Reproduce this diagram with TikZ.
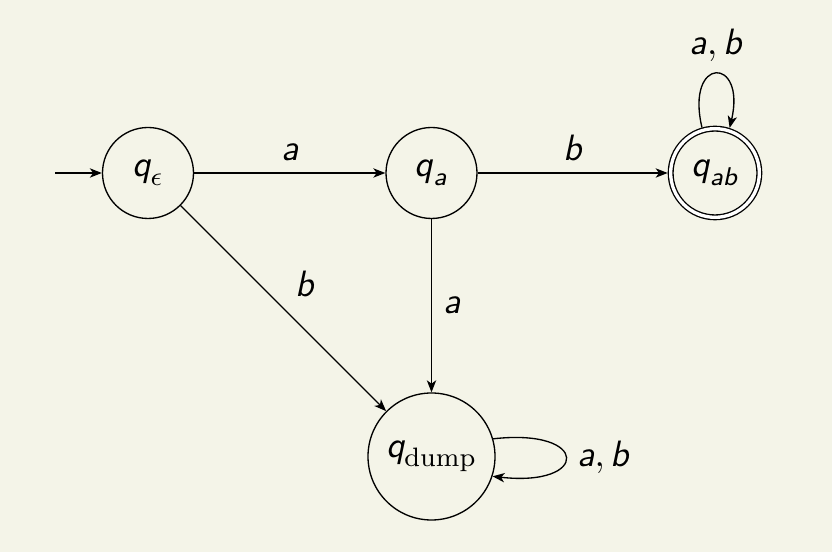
\documentclass[tikz,border=0pt]{standalone}
\usepackage{amsmath}
\usetikzlibrary{arrows.meta}
\definecolor{paper}{HTML}{F4F4E8}
% slanted sans letters for state names and input symbols
\newcommand{\sv}[1]{\textsf{\slshape #1}}
\begin{document}
\begin{tikzpicture}[x=0.3pt,y=-0.3pt,
  font=\fontsize{11}{13}\selectfont,
  state/.style={circle,draw,line width=0.4pt,inner sep=0pt,minimum size=27.3pt},
  final/.style={state,double,double distance=1pt,minimum size=26.6pt,outer sep=0.9pt},
  edge/.style={draw,line width=0.4pt,-{Stealth[length=3.6pt,width=2.8pt,inset=1pt]}}]
  % page
  \fill[paper] (0,0) rectangle (832,552);
  \useasboundingbox (0,0) rectangle (832,552);

  % states
  \node[state] (qe) at (148,173) {$\sv{q}_{\epsilon}$};
  \node[state] (qa) at (431.5,173) {$\sv{q}_{\sv{a}}$};
  \node[final] (qab) at (715,173) {$\sv{q}_{\sv{ab}}$};
  \node[state,minimum size=38.1pt] (qd) at (431.5,456.5) {$\sv{q}_{\mathrm{dump}}$};
  \coordinate (start) at (55,173);

  % transitions
  \draw[edge] (start) -- (qe);
  \draw[edge] (qe) -- node[above] {$\sv{a}$} (qa);
  \draw[edge] (qa) -- node[above] {$\sv{b}$} (qab);
  \draw[edge] (qe) -- node[above right] {$\sv{b}$} (qd);
  \draw[edge] (qa) -- node[right] {$\sv{a}$} (qd);
  \draw[edge] (qd.16) .. controls +(97,-11) and +(97,11) .. node[right] {$\sv{a}, \sv{b}$} (qd.-18);
  \draw[edge] (qab.106) .. controls +(-17,-72) and +(17,-72) .. node[above] {$\sv{a}, \sv{b}$} (qab.72);
\end{tikzpicture}
\end{document}
